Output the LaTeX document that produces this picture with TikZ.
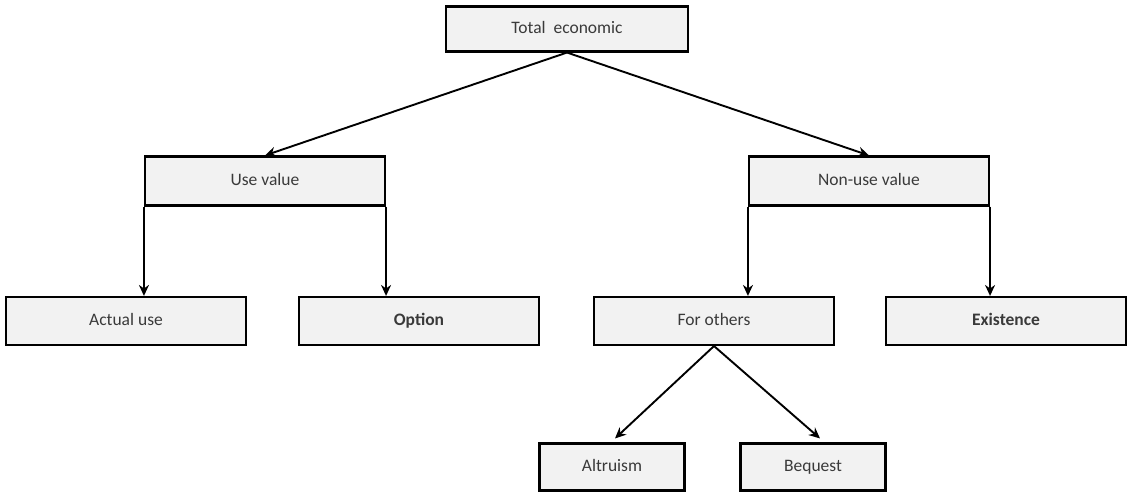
\documentclass[tikz,border=0pt]{standalone}
\usepackage{fontspec}
\setmainfont{Carlito}
\usetikzlibrary{arrows.meta,calc}
\definecolor{boxfill}{HTML}{F2F2F2}
\definecolor{txt}{HTML}{3A3A3A}
\begin{document}
\begin{tikzpicture}[x=1pt,y=-1pt,
  box/.style={draw=black,line width=2.1pt,fill=boxfill,rectangle,inner sep=0pt,
    text=txt,font=\fontsize{17.5}{20}\selectfont,text height=12pt,text depth=3.5pt},
  wide/.style={box,minimum width=240pt,minimum height=48pt},
  small/.style={box,minimum width=145pt,minimum height=47pt},
  conn/.style={line width=1.9pt,-{Stealth[length=11pt,width=10pt]}}]
\useasboundingbox (0,0) rectangle (1130,494);
\node[box,minimum width=242pt,minimum height=45pt] (tot) at (567,29) {Total~ economic};
\node[wide,minimum height=49pt] (use) at (265,181) {Use value};
\node[wide,minimum height=49pt] (non) at (869,181) {Non-use value};
\node[wide] (act) at (126,321) {Actual use};
\node[wide] (opt) at (419,321) {\textbf{Option}};
\node[wide] (oth) at (714,321) {For others};
\node[wide] (exi) at (1006,321) {\textbf{Existence}};
\node[small] (alt) at (612,467) {Altruism};
\node[small] (beq) at (813,467) {Bequest};
\draw[conn] (tot.south) -- (use.north);
\draw[conn] (tot.south) -- (non.north);
\draw[conn] (use.south west) -- (use.south west |- act.north);
\draw[conn] (use.south east) -- (use.south east |- opt.north);
\draw[conn] (non.south west) -- (non.south west |- oth.north);
\draw[conn] (non.south east) -- (non.south east |- exi.north);
\draw[conn] (oth.south) -- ($(alt.north)+(3,-4)$);
\draw[conn] (oth.south) -- ($(beq.north)+(7,-4)$);
\end{tikzpicture}
\end{document}
